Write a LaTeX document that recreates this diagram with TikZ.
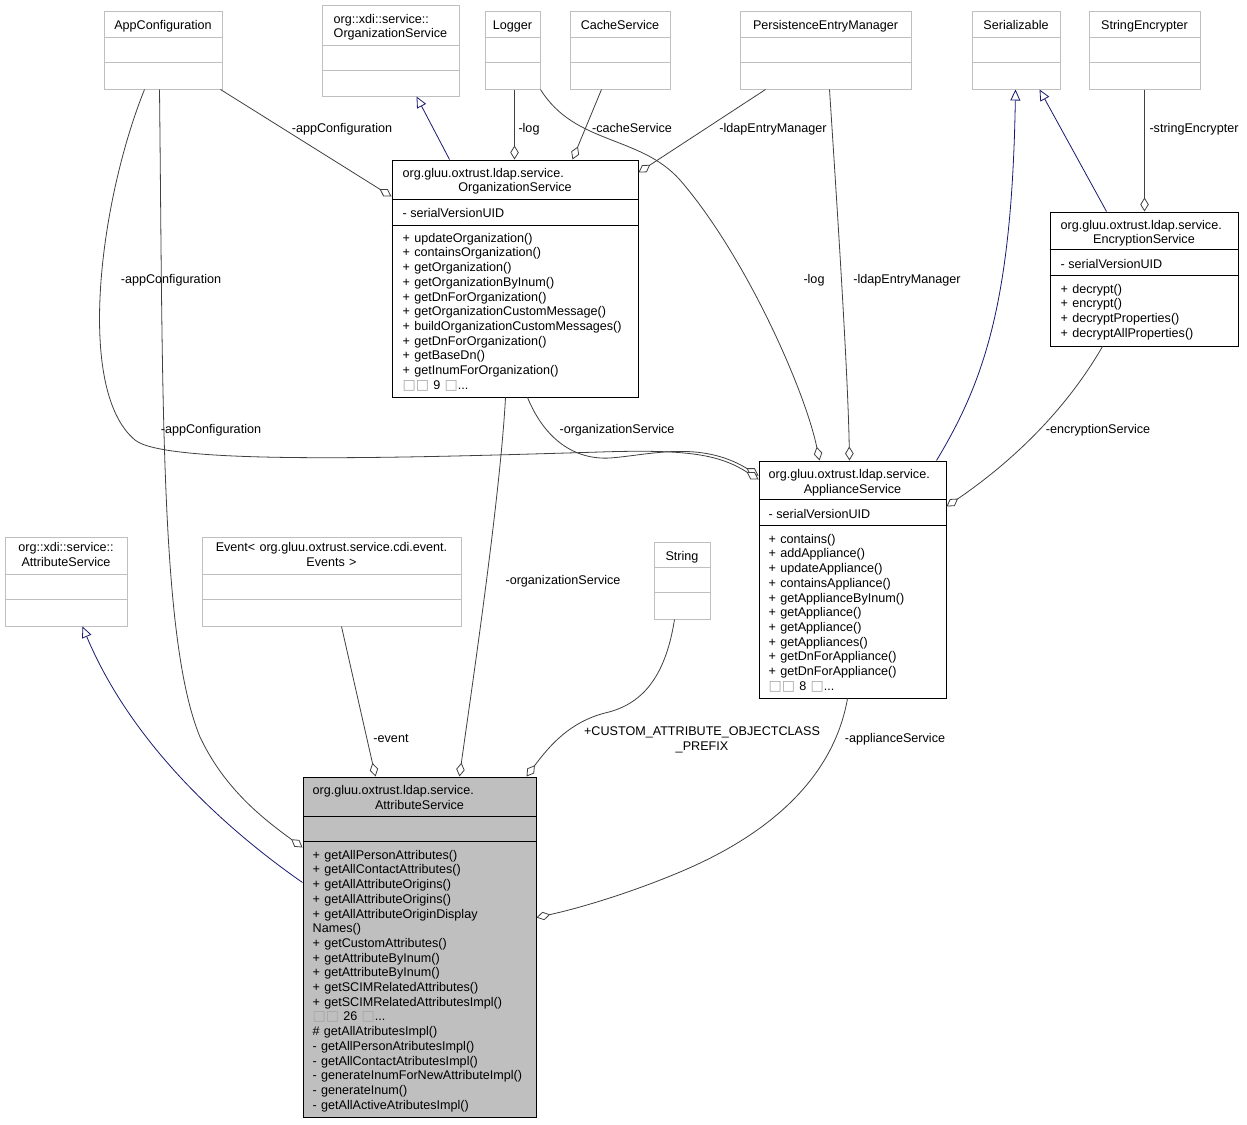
\documentclass[tikz,border=0pt]{standalone}
\usepackage{fontspec}
\setmainfont{Liberation Sans}
\newfontfamily\sqfont{DejaVu Sans}
\usetikzlibrary{arrows.meta}
\definecolor{edgeGray}{HTML}{404040}
\definecolor{inhBlue}{HTML}{191970}
\colorlet{boxGray}{gray!50}
\newcommand\dgfont{\fontsize{12.6}{14.7}\selectfont}
\newcommand\nbox{{\sqfont\fontsize{14}{14.7}\selectfont\textcolor{gray!70}{□}}}

\begin{document}
\begin{tikzpicture}[
    x=1pt, y=-1pt,
    cls/.style={rectangle, draw=black, fill=white, line width=1pt, inner sep=0pt},
    ext/.style={cls, draw=boxGray},
    cur/.style={cls, fill=boxGray},
    lbl/.style={inner sep=0pt, text height=11pt, text depth=0pt, font=\dgfont},
    col/.style={inner sep=0pt, text height=10pt, align=left, anchor=north west, font=\dgfont},
    agg/.style={line width=0.8pt, draw=edgeGray, -{Diamond[open, length=14pt, width=8.5pt, fill=white]}},
    inh/.style={line width=0.8pt, draw=inhBlue, -{Triangle[open, length=11pt, width=10pt, fill=white]}},
  ]
  \fill[white] (0,0) rectangle (1247,1124);
  \useasboundingbox (0,0) rectangle (1247,1124);

  % classes
  \node[ext, minimum width=118pt, minimum height=77pt] (appcfg) at (163,50.5) {};
  \node[ext, minimum width=137pt, minimum height=90pt] (xdiorg) at (390.5,51) {};
  \node[ext, minimum width=55pt, minimum height=77pt] (logger) at (512.5,50.5) {};
  \node[ext, minimum width=100pt, minimum height=77pt] (cache) at (620,50.5) {};
  \node[ext, minimum width=171pt, minimum height=77pt] (persist) at (825.5,50.5) {};
  \node[ext, minimum width=88pt, minimum height=77pt] (serial) at (1016,50.5) {};
  \node[ext, minimum width=111pt, minimum height=77pt] (strenc) at (1144.5,50.5) {};
  \node[cls, minimum width=246pt, minimum height=237pt] (orgsvc) at (515,278.5) {};
  \node[cls, minimum width=188pt, minimum height=134pt] (encsvc) at (1144,279) {};
  \node[cls, minimum width=187pt, minimum height=237pt] (appsvc) at (852.5,579.5) {};
  \node[ext, minimum width=122pt, minimum height=89pt] (xdiattr) at (66,581.5) {};
  \node[ext, minimum width=259pt, minimum height=89pt] (event) at (331.5,581.5) {};
  \node[ext, minimum width=56pt, minimum height=77pt] (string) at (682,580.5) {};
  \node[cur, minimum width=233pt, minimum height=340pt] (attrsvc) at (419.5,947) {};

  \foreach \n/\a/\b in {appcfg/26/51, xdiorg/40/65, logger/26/51, cache/26/51, persist/26/51,
      serial/26/51, strenc/26/51, xdiattr/38/63, event/38/63, string/26/51}
    \draw[boxGray, line width=1pt] ([yshift=-\a pt]\n.north west) -- ([yshift=-\a pt]\n.north east)
      ([yshift=-\b pt]\n.north west) -- ([yshift=-\b pt]\n.north east);
  \foreach \n/\a/\b in {orgsvc/40/66, encsvc/38/64, appsvc/39/65, attrsvc/40/65}
    \draw[black, line width=1pt] ([yshift=-\a pt]\n.north west) -- ([yshift=-\a pt]\n.north east)
      ([yshift=-\b pt]\n.north west) -- ([yshift=-\b pt]\n.north east);

  % titles and members
  \node[lbl] (appcfgT) at ([yshift=-13pt]appcfg.north) {AppConfiguration};
  \node[col, text width=125pt] (xdiorgT) at ([xshift=12pt, yshift=-7.5pt]xdiorg.north west)
    {org::xdi::service::\\OrganizationService};
  \node[lbl] (loggerT) at ([yshift=-13pt]logger.north) {Logger};
  \node[lbl] (cacheT) at ([yshift=-13pt]cache.north) {CacheService};
  \node[lbl] (persistT) at ([yshift=-13pt]persist.north) {PersistenceEntryManager};
  \node[lbl] (serialT) at ([yshift=-13pt]serial.north) {Serializable};
  \node[lbl] (strencT) at ([yshift=-13pt]strenc.north) {StringEncrypter};
  \node[lbl] (stringT) at ([yshift=-13pt]string.north) {String};
  \node[col, text width=122pt, align=center, anchor=north] (xdiattrT) at ([yshift=-5pt]xdiattr.north)
    {org::xdi::service::\\AttributeService};
  \node[col, text width=259pt, align=center, anchor=north] (eventT) at ([yshift=-5pt]event.north)
    {Event< org.gluu.oxtrust.service.cdi.event.\\Events >};

  \node[lbl, anchor=west] (orgsvcT1) at ([xshift=11pt, yshift=-12pt]orgsvc.north west) {org.gluu.oxtrust.ldap.service.};
  \node[lbl] (orgsvcT2) at ([yshift=-26pt]orgsvc.north) {OrganizationService};
  \node[lbl, anchor=west] (orgsvcA) at ([xshift=11pt, yshift=-52pt]orgsvc.north west) {- serialVersionUID};
  \node[col, text width=230pt] (orgsvcM) at ([xshift=11pt, yshift=-72.5pt]orgsvc.north west)
    {+ updateOrganization()\\+ containsOrganization()\\+ getOrganization()\\+ getOrganizationByInum()\\
     + getDnForOrganization()\\+ getOrganizationCustomMessage()\\+ buildOrganizationCustomMessages()\\
     + getDnForOrganization()\\+ getBaseDn()\\+ getInumForOrganization()\\\nbox\nbox{} 9 \nbox...};

  \node[lbl, anchor=west] (encsvcT1) at ([xshift=11pt, yshift=-12pt]encsvc.north west) {org.gluu.oxtrust.ldap.service.};
  \node[lbl] (encsvcT2) at ([yshift=-26pt]encsvc.north) {EncryptionService};
  \node[lbl, anchor=west] (encsvcA) at ([xshift=11pt, yshift=-51pt]encsvc.north west) {- serialVersionUID};
  \node[col, text width=170pt] (encsvcM) at ([xshift=11pt, yshift=-71.5pt]encsvc.north west)
    {+ decrypt()\\+ encrypt()\\+ decryptProperties()\\+ decryptAllProperties()};

  \node[lbl, anchor=west] (appsvcT1) at ([xshift=10pt, yshift=-12pt]appsvc.north west) {org.gluu.oxtrust.ldap.service.};
  \node[lbl] (appsvcT2) at ([yshift=-27pt]appsvc.north) {ApplianceService};
  \node[lbl, anchor=west] (appsvcA) at ([xshift=10pt, yshift=-52pt]appsvc.north west) {- serialVersionUID};
  \node[col, text width=170pt] (appsvcM) at ([xshift=10pt, yshift=-72.5pt]appsvc.north west)
    {+ contains()\\+ addAppliance()\\+ updateAppliance()\\+ containsAppliance()\\+ getApplianceByInum()\\
     + getAppliance()\\+ getAppliance()\\+ getAppliances()\\+ getDnForAppliance()\\+ getDnForAppliance()\\
     \nbox\nbox{} 8 \nbox...};

  \node[lbl, anchor=west] (attrsvcT1) at ([xshift=10pt, yshift=-12pt]attrsvc.north west) {org.gluu.oxtrust.ldap.service.};
  \node[lbl] (attrsvcT2) at ([yshift=-27pt]attrsvc.north) {AttributeService};
  \node[col, text width=220pt] (attrsvcM) at ([xshift=10pt, yshift=-72.5pt]attrsvc.north west)
    {+ getAllPersonAttributes()\\+ getAllContactAttributes()\\+ getAllAttributeOrigins()\\
     + getAllAttributeOrigins()\\+ getAllAttributeOriginDisplay\\Names()\\+ getCustomAttributes()\\
     + getAttributeByInum()\\+ getAttributeByInum()\\+ getSCIMRelatedAttributes()\\
     + getSCIMRelatedAttributesImpl()\\\nbox\nbox{} 26 \nbox...\\\# getAllAtributesImpl()\\
     - getAllPersonAtributesImpl()\\- getAllContactAtributesImpl()\\- generateInumForNewAttributeImpl()\\
     - generateInum()\\- getAllActiveAtributesImpl()};

  % inheritance
  \draw[inh] ([xshift=58pt]orgsvc.north west) -- ([xshift=95pt]xdiorg.south west);
  \draw[inh] ([xshift=178pt]appsvc.north west) .. controls (985,380) and (1012,300) .. ([xshift=44pt]serial.south west);
  \draw[inh] ([xshift=57pt]encsvc.north west) -- ([xshift=68pt]serial.south west);
  \draw[inh] ([yshift=-106pt]attrsvc.north west) .. controls (220,825) and (130,740) .. ([xshift=78pt]xdiattr.south west);

  % members
  \draw[agg] ([xshift=-2pt]appcfg.south east) -- ([yshift=-37pt]orgsvc.north west);
  \draw[agg] ([xshift=30pt]logger.south west) -- ([xshift=123pt]orgsvc.north west);
  \draw[agg] ([xshift=32pt]cache.south west) -- ([xshift=181pt]orgsvc.north west);
  \draw[agg] ([xshift=26pt]persist.south west) -- ([yshift=-13pt]orgsvc.north east);
  \draw[agg] ([xshift=56pt]strenc.south west) -- ([xshift=95pt]encsvc.north west);
  \draw[agg] (logger.south east) .. controls (575,145) and (640,135) .. (680,180)
    .. controls (745,255) and (805,390) .. ([xshift=61pt]appsvc.north west);
  \draw[agg] ([xshift=90pt]persist.south west) .. controls (840,250) and (848,380) .. ([xshift=91pt]appsvc.north west);
  \draw[agg] ([xshift=53pt]encsvc.south west) .. controls (1060,420) and (1000,470) .. ([yshift=-46pt]appsvc.north east);
  \draw[agg] ([xshift=136pt]orgsvc.south west) .. controls (545,440) and (575,460) .. (610,458)
    .. controls (650,455) and (700,440) .. ([yshift=-15pt]appsvc.north west);
  \draw[agg] ([xshift=41pt]appcfg.south west) .. controls (100,200) and (75,390) .. (135,440)
    .. controls (165,465) and (400,458) .. (600,452) .. controls (690,449) and (720,455) .. ([yshift=-19pt]appsvc.north west);
  \draw[agg] ([xshift=56pt]appcfg.south west) .. controls (163,400) and (160,640) .. (200,737)
    .. controls (225,790) and (265,820) .. ([yshift=-71pt]attrsvc.north west);
  \draw[agg] ([xshift=140pt]event.south west) -- ([xshift=73pt]attrsvc.north west);
  \draw[agg] ([xshift=114pt]orgsvc.south west) .. controls (500,500) and (470,700) .. ([xshift=157pt]attrsvc.north west);
  \draw[agg] ([xshift=21pt]string.south west) .. controls (665,680) and (640,705) .. (605,713)
    .. controls (570,722) and (550,745) .. ([xshift=224pt]attrsvc.north west);
  \draw[agg] ([xshift=89pt]appsvc.south west) .. controls (835,770) and (780,830) .. (680,872)
    .. controls (630,893) and (580,908) .. ([yshift=-141pt]attrsvc.north east);

  % member names
  \node[lbl] (lAppOrg) at (342,127) {-appConfiguration};
  \node[lbl] (lLogOrg) at (529,127) {-log};
  \node[lbl] (lCacheOrg) at (632,127) {-cacheService};
  \node[lbl] (lPersOrg) at (773,127) {-ldapEntryManager};
  \node[lbl] (lStrEnc) at (1194,127) {-stringEncrypter};
  \node[lbl] (lAppApl) at (171,278) {-appConfiguration};
  \node[lbl] (lLogApl) at (814,278) {-log};
  \node[lbl] (lPersApl) at (907,278) {-ldapEntryManager};
  \node[lbl] (lAppAttr) at (211,428) {-appConfiguration};
  \node[lbl] (lOrgApl) at (617,428) {-organizationService};
  \node[lbl] (lEncApl) at (1098,428) {-encryptionService};
  \node[lbl] (lOrgAttr) at (563,579) {-organizationService};
  \node[lbl] (lEvtAttr) at (391,737) {-event};
  \node[col, text width=260pt, align=center, anchor=north] (lStrAttr) at (702,725.5)
    {+CUSTOM\_ATTRIBUTE\_OBJECTCLASS\\\_PREFIX};
  \node[lbl] (lAplAttr) at (895,737) {-applianceService};
\end{tikzpicture}
\end{document}
